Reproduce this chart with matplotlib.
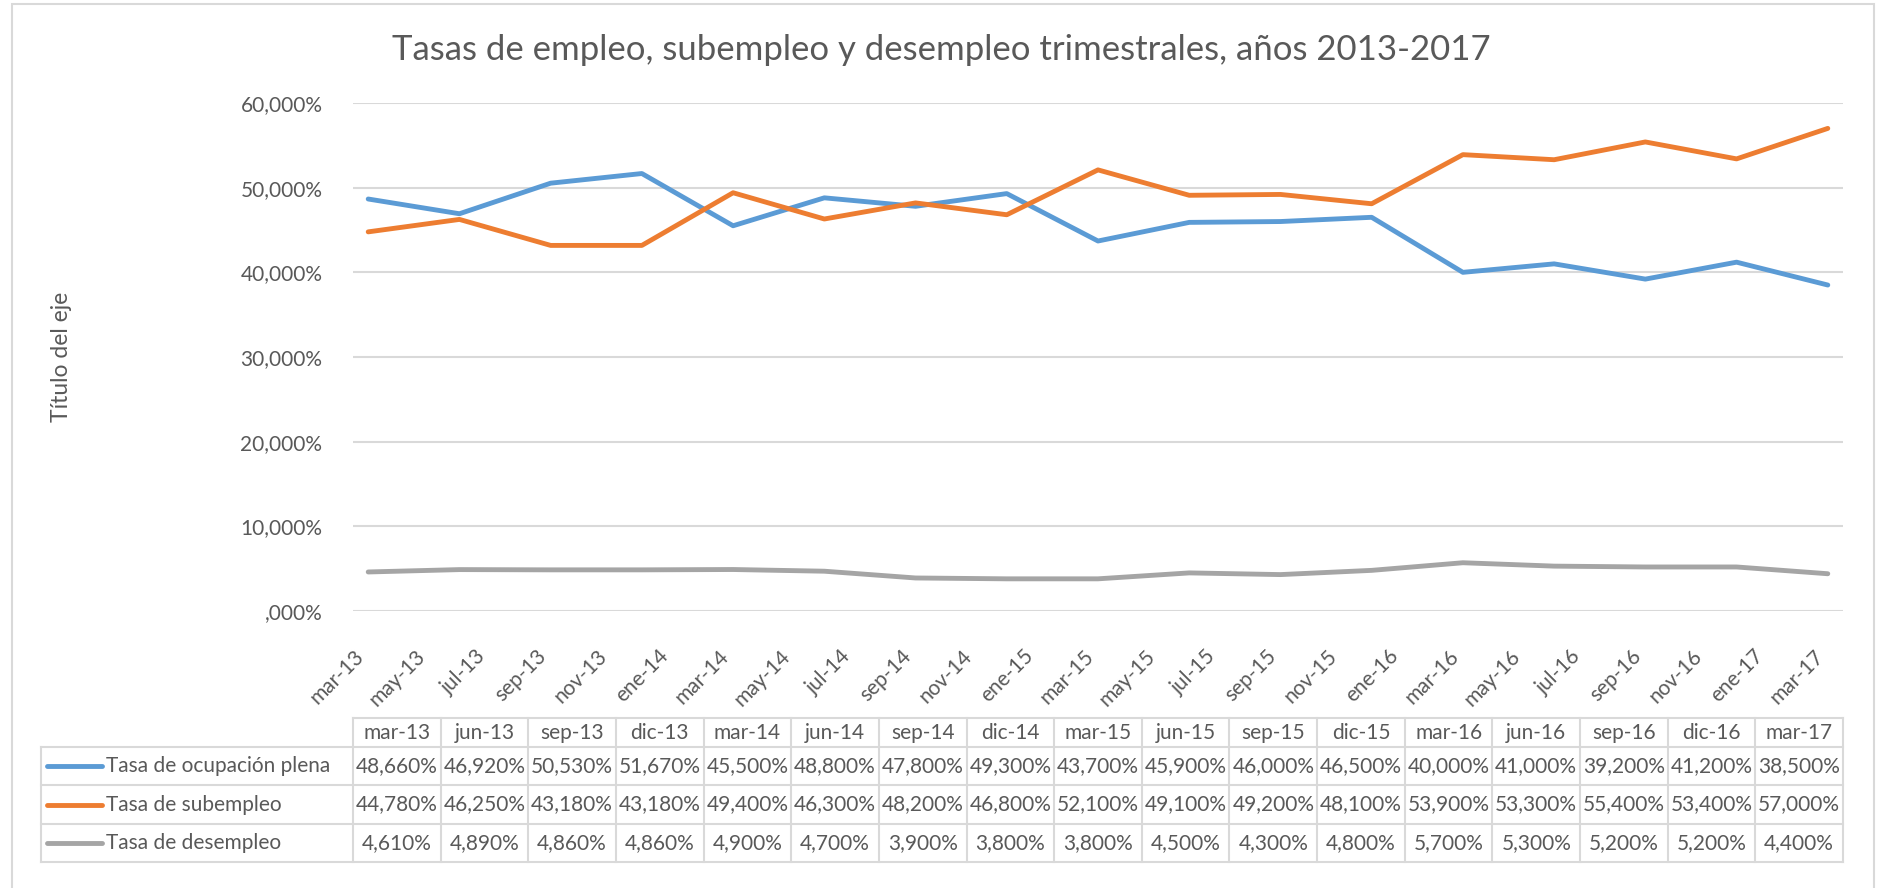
import matplotlib
matplotlib.use("Agg")
import matplotlib.pyplot as plt
from matplotlib.transforms import blended_transform_factory
from matplotlib.lines import Line2D

# ---------------- data ----------------
quarters = ["mar-13", "jun-13", "sep-13", "dic-13", "mar-14", "jun-14", "sep-14", "dic-14",
            "mar-15", "jun-15", "sep-15", "dic-15", "mar-16", "jun-16", "sep-16", "dic-16", "mar-17"]
plena = [48.66, 46.92, 50.53, 51.67, 45.5, 48.8, 47.8, 49.3, 43.7, 45.9, 46.0, 46.5,
         40.0, 41.0, 39.2, 41.2, 38.5]
subempleo = [44.78, 46.25, 43.18, 43.18, 49.4, 46.3, 48.2, 46.8, 52.1, 49.1, 49.2, 48.1,
             53.9, 53.3, 55.4, 53.4, 57.0]
desempleo = [4.61, 4.89, 4.86, 4.86, 4.9, 4.7, 3.9, 3.8, 3.8, 4.5, 4.3, 4.8,
             5.7, 5.3, 5.2, 5.2, 4.4]
series_names = ["Tasa de ocupación plena", "Tasa de subempleo", "Tasa de desempleo"]
month_ticks = ["mar-13", "may-13", "jul-13", "sep-13", "nov-13", "ene-14", "mar-14", "may-14",
               "jul-14", "sep-14", "nov-14", "ene-15", "mar-15", "may-15", "jul-15", "sep-15",
               "nov-15", "ene-16", "mar-16", "may-16", "jul-16", "sep-16", "nov-16", "ene-17",
               "mar-17"]
y_ticks = [0, 10, 20, 30, 40, 50, 60]
y_labels = [",000%", "10,000%", "20,000%", "30,000%", "40,000%", "50,000%", "60,000%"]
title = "Tasas de empleo, subempleo y desempleo trimestrales, años 2013-2017"
y_title = "Título del eje"

# ---------------- style ----------------
colors = ["#5B9BD5", "#ED7D31", "#A5A5A5"]
txt = "#595959"
grid = "#D9D9D9"
plt.rcParams['font.family'] = ['Lato', 'DejaVu Sans']

W, H = 1880, 888
fig = plt.figure(figsize=(W / 100, H / 100), dpi=100)

def px(x0, y0, x1, y1):
    return [x0 / W, 1 - y1 / H, (x1 - x0) / W, (y1 - y0) / H]

ax = fig.add_axes(px(353, 103, 1843, 611))

# outer chart border
fig.add_artist(plt.Rectangle((12 / W, -0.01), (1874 - 12) / W, (888 - 4) / H + 0.01,
                             transform=fig.transFigure, fill=False, ec=grid, lw=1.5))

# x positions in months (quarterly data)
xs = [3 * i for i in range(len(quarters))]
for vals, c in zip([plena, subempleo, desempleo], colors):
    ax.plot(xs, vals, color=c, lw=3.5, solid_capstyle='round', solid_joinstyle='round', zorder=3)

ax.set_xlim(-0.5, 48.5)
ax.set_ylim(0, 60)
ax.set_yticks(y_ticks)
ax.set_yticklabels(y_labels)
ax.set_xticks([2 * i for i in range(len(month_ticks))])
ax.set_xticklabels(month_ticks, rotation=45, ha='right', va='top')
ax.tick_params(axis='both', length=0, labelsize=15, labelcolor=txt)
ax.tick_params(axis='x', pad=25)
ax.tick_params(axis='y', pad=22)
ax.grid(axis='y', color=grid, lw=1.5)
for s in ax.spines.values():
    s.set_visible(False)
ax.set_axisbelow(True)

fig.text(941 / W, 1 - 50 / H, title, ha='center', va='center', fontsize=25, color=txt)
fig.text(62 / W, 1 - 357 / H, y_title, rotation=90, ha='center', va='center', fontsize=16.5, color=txt)

# ---------------- data table ----------------
tr = blended_transform_factory(ax.transAxes, fig.transFigure)
ncol = len(quarters)
cw = 1.0 / ncol
yy = lambda p: 1 - p / H
top, hdr_b = 718, 747
rows_b = [785, 824, 862]
lbl_left = (41 - 353) / 1490.0

def hline(x0, x1, y):
    fig.add_artist(Line2D([x0, x1], [yy(y), yy(y)], transform=tr, color=grid, lw=1.5))

def vline(x, y0, y1):
    fig.add_artist(Line2D([x, x], [yy(y0), yy(y1)], transform=tr, color=grid, lw=1.5))

hline(0, 1, top)
hline(lbl_left, 1, hdr_b)
for rb in rows_b:
    hline(lbl_left, 1, rb)
for j in range(ncol + 1):
    vline(j * cw, top, rows_b[-1])
vline(lbl_left, hdr_b, rows_b[-1])

for j, q in enumerate(quarters):
    fig.text((j + 0.5) * cw, yy((top + hdr_b) / 2), q, transform=tr, ha='center', va='center',
             fontsize=15, color=txt)

row_tops = [hdr_b] + rows_b[:-1]
for r, (vals, c, name) in enumerate(zip([plena, subempleo, desempleo], colors, series_names)):
    yc = yy((row_tops[r] + rows_b[r]) / 2)
    fig.add_artist(Line2D([(47 - 353) / 1490.0, (102 - 353) / 1490.0], [yc, yc], transform=tr,
                          color=c, lw=3.5, solid_capstyle='round'))
    fig.text((106 - 353) / 1490.0, yc, name, transform=tr, ha='left', va='center',
             fontsize=15, color=txt)
    for j, v in enumerate(vals):
        s = f"{v:.3f}".replace('.', ',') + '%'
        fig.text((j + 0.5) * cw, yc, s, transform=tr, ha='center', va='center',
                 fontsize=15, color=txt)

fig.savefig("out.png", dpi=100, facecolor='white')
